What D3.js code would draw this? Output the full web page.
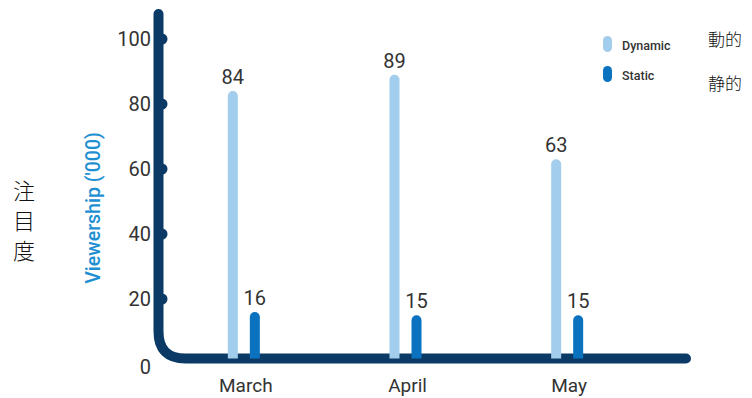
<!DOCTYPE html>
<html>
<head>
<meta charset="utf-8">
<script src="https://cdn.jsdelivr.net/npm/d3@7/dist/d3.min.js"></script>
<style>
  html, body { margin: 0; padding: 0; background: #fff; }
  svg { display: block; }
</style>
</head>
<body>
<div id="chart"></div>
<script>
// Monthly viewership (thousands), dynamic vs. static
const months = ["March", "April", "May"];
const seriesNames = ["Dynamic", "Static"];
const dynamicValues = [84, 89, 63];
const staticValues = [16, 15, 15];
const yTicks = [0, 20, 40, 60, 80, 100];
const legendJa = ["動的", "静的"];
const yTitle = "Viewership ('000)";
const yTitleJa = ["注", "目", "度"];

const W = 752, H = 398;
const colors = { Dynamic: "#a3cdec", Static: "#0b72c0" };
const axisColor = "#0b3a66";
const textColor = "#333333";

const svg = d3.select("#chart").append("svg")
  .attr("width", W).attr("height", H);

const x = d3.scaleBand().domain(months).range([163, 648]).padding(0);
const xs = d3.scaleBand().domain(seriesNames).range([-22, 22]).padding(0);
const y = d3.scaleLinear().domain([0, 100]).range([364, 39]);

const rows = months.map((m, i) => ({
  month: m,
  values: [
    { key: "Dynamic", value: dynamicValues[i] },
    { key: "Static", value: staticValues[i] }
  ]
}));

// Axis: one thick line with a rounded elbow at the origin
const axisX = 158.5, axisTop = 14, baseY = 358.5, axisRight = 686, r = 27;
svg.append("path")
  .attr("d", `M${axisX},${axisTop} L${axisX},${baseY - r} Q${axisX},${baseY} ${axisX + r},${baseY} L${axisRight},${baseY}`)
  .attr("fill", "none")
  .attr("stroke", axisColor)
  .attr("stroke-width", 10)
  .attr("stroke-linecap", "round");

// Tick knobs along the vertical axis
svg.append("g").selectAll("circle")
  .data(yTicks.filter(t => t > 0))
  .join("circle")
  .attr("cx", axisX + 3.5)
  .attr("cy", d => y(d))
  .attr("r", 5.5)
  .attr("fill", axisColor);

// Y tick labels
svg.append("g").selectAll("text")
  .data(yTicks)
  .join("text")
  .attr("x", 151)
  .attr("y", d => y(d) + (d === 0 ? 3 : 0))
  .attr("dy", "0.35em")
  .attr("text-anchor", "end")
  .attr("font-family", "Roboto, 'Open Sans', sans-serif")
  .attr("font-size", 20)
  .attr("fill", textColor)
  .text(d => d);

// Bars with rounded tops
const barW = 10;
const groups = svg.append("g").selectAll("g")
  .data(rows)
  .join("g")
  .attr("transform", d => `translate(${x(d.month) + x.bandwidth() / 2},0)`);

groups.selectAll("path.bar")
  .data(d => d.values)
  .join("path")
  .attr("class", "bar")
  .attr("fill", d => colors[d.key])
  .attr("d", d => {
    const cx = xs(d.key) + xs.bandwidth() / 2;
    const x0 = cx - barW / 2, x1 = cx + barW / 2;
    const top = y(d.value), bottom = baseY;
    const rr = barW / 2;
    return `M${x0},${bottom} L${x0},${top + rr} A${rr},${rr} 0 0 1 ${x1},${top + rr} L${x1},${bottom} Z`;
  });

// Value labels
groups.selectAll("text.val")
  .data(d => d.values)
  .join("text")
  .attr("class", "val")
  .attr("x", d => xs(d.key) + xs.bandwidth() / 2)
  .attr("y", d => y(d.value) - 7)
  .attr("text-anchor", "middle")
  .attr("font-family", "Roboto, 'Open Sans', sans-serif")
  .attr("font-size", 20)
  .attr("fill", textColor)
  .text(d => d.value);

// Month labels
svg.append("g").selectAll("text")
  .data(months)
  .join("text")
  .attr("x", d => x(d) + x.bandwidth() / 2 + 2)
  .attr("y", 392)
  .attr("text-anchor", "middle")
  .attr("font-family", "Roboto, 'Open Sans', sans-serif")
  .attr("font-size", 19)
  .attr("fill", textColor)
  .text(d => d);

// Y-axis title
svg.append("text")
  .attr("transform", "translate(100,208) rotate(-90)")
  .attr("text-anchor", "middle")
  .attr("font-family", "Roboto, 'Open Sans', sans-serif")
  .attr("font-size", 19.5)
  .attr("font-weight", 500)
  .attr("fill", "#1e8fd2")
  .text(yTitle);

// Vertical Japanese title
svg.append("g").selectAll("text")
  .data(yTitleJa)
  .join("text")
  .attr("x", 24)
  .attr("y", (d, i) => 199 + i * 30)
  .attr("text-anchor", "middle")
  .attr("font-family", "'Noto Sans CJK JP', sans-serif")
  .attr("font-size", 22)
  .attr("font-weight", 300)
  .attr("fill", "#111")
  .text(d => d);

// Legend
const legend = svg.append("g").selectAll("g")
  .data(seriesNames)
  .join("g")
  .attr("transform", (d, i) => `translate(603,${36 + i * 30})`);

legend.append("rect")
  .attr("width", 9).attr("height", 16)
  .attr("rx", 4.5).attr("ry", 4.5)
  .attr("fill", d => colors[d]);

legend.append("text")
  .attr("x", 19)
  .attr("y", 14)
  .attr("font-family", "Roboto, 'Open Sans', sans-serif")
  .attr("font-size", 12.5)
  .attr("font-weight", 500)
  .attr("fill", textColor)
  .text(d => d);

svg.append("g").selectAll("text")
  .data(legendJa)
  .join("text")
  .attr("x", 708)
  .attr("y", (d, i) => 46 + i * 44)
  .attr("font-family", "'Noto Sans CJK JP', sans-serif")
  .attr("font-size", 17)
  .attr("font-weight", 300)
  .attr("fill", "#111")
  .text(d => d);
</script>
</body>
</html>
